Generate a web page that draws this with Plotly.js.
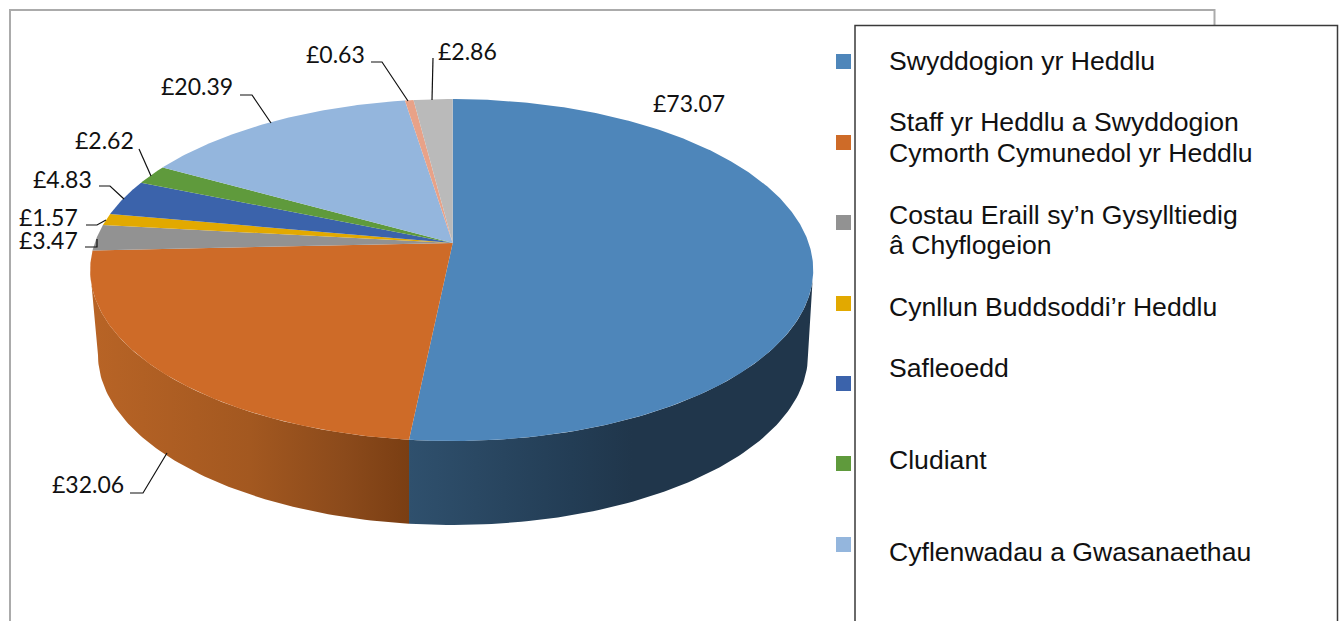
<!DOCTYPE html>
<html>
<head>
<meta charset="utf-8">
<script src="https://cdn.plot.ly/plotly-3.0.1.min.js"></script>
<style>html,body{margin:0;padding:0;background:#fff;overflow:hidden}</style>
</head>
<body>
<div id="chart" style="width:1344px;height:621px"></div>
<script>
// ---- data ----
const values = [73.07, 32.06, 3.47, 1.57, 4.83, 2.62, 20.39, 0.63, 2.86];
const sliceColors = ['#4E86BA','#CE6B28','#929292','#E2A900','#3B63AB','#5F9A3C','#94B6DD','#E8A288','#BABABA'];
const legendNames = [
  ['Swyddogion yr Heddlu'],
  ['Staff yr Heddlu a Swyddogion','Cymorth Cymunedol yr Heddlu'],
  ['Costau Eraill sy\u2019n Gysylltiedig','\u00e2 Chyflogeion'],
  ['Cynllun Buddsoddi\u2019r Heddlu'],
  ['Safleoedd'],
  ['Cludiant'],
  ['Cyflenwadau a Gwasanaethau']
];
// ---- layout positions (pixels on a 1:1 hidden axis) ----
const legendKeyY = [61.5, 142.5, 222.5, 303.5, 383.5, 463.5, 544.5];
const legendBaselines = [[70],[131,162],[224,254],[316],[377],[469],[561]];
const labelX = [653, 52, 19, 19, 33, 75, 161, 306, 438];
const labelY = [103, 484, 240, 217, 179, 140, 86, 54, 51];
const leaders = [
  null,
  [[130,493],[143,493],[167,453]],
  [[85,247],[97,247],[97,239]],
  [[86,225],[97,225],[106,220]],
  [[99,186],[110,186],[124,199]],
  [[139,149],[151,176]],
  [[240,95],[252,95],[271,123]],
  [[371,62],[382,62],[408,101]],
  [[433,58],[432,100]]
];

// ---- pie projection ----
const CX = 452.7, CY = 243, RL = 358, RR = 356, A = 166.7, B = 0.158;
const total = values.reduce((a, b) => a + b, 0);
function rim(deg) {            // clockwise degrees from 12 o'clock
  const t = deg * Math.PI / 180, u = Math.sin(t), v = Math.cos(t), d = 1 + B * v;
  return [CX + (u > 0 ? RR : RL) * u / d, CY - A * v / d];
}
const LOW = {cx: 453, cy: 355, rx: 355, ry: 170};
function lower(phiDeg) {       // bottom ellipse, phi measured from +x towards screen-down
  const p = phiDeg * Math.PI / 180;
  return [LOW.cx + LOW.rx * Math.cos(p), LOW.cy + LOW.ry * Math.sin(p)];
}
function range(a, b, n) {
  const out = [];
  for (let i = 0; i <= n; i++) out.push(a + (b - a) * i / n);
  return out;
}
const ends = [];
let acc = 0;
values.forEach(v => { const s = acc; acc += v / total * 360; ends.push([s, acc]); });

const traces = [];
// side walls
const split = ends[0][1];
const splitLow = Math.acos((rim(split)[0] - LOW.cx) / LOW.rx) * 180 / Math.PI;
function wall(rimA, rimB, lowA, lowB, scale, start, stop) {
  const pts = range(rimA, rimB, 80).map(rim).concat(range(lowA, lowB, 80).map(lower));
  traces.push({
    x: pts.map(p => p[0]), y: pts.map(p => p[1]),
    mode: 'lines', line: {width: 0}, fill: 'toself', hoverinfo: 'skip',
    fillgradient: {type: 'horizontal', colorscale: scale, start: start, stop: stop}
  });
}
wall(99, split, splitLow, 0, [[0,'#2F506D'],[0.4,'#233D55'],[0.55,'#20364B'],[1,'#20364B']], rim(split)[0], 815);
wall(261, split, splitLow, 180, [[0,'#B86426'],[0.5,'#A35820'],[0.8,'#8B4A1B'],[1,'#7A3E13']], 90, rim(split)[0]);
// top slices
ends.forEach((e, i) => {
  const pts = [[CX, CY]].concat(range(e[0], e[1], Math.max(4, Math.ceil(e[1] - e[0]) * 2)).map(rim));
  pts.push([CX, CY]);
  traces.push({
    x: pts.map(p => p[0]), y: pts.map(p => p[1]),
    mode: 'lines', line: {width: 0, color: sliceColors[i]}, fill: 'toself',
    fillcolor: sliceColors[i], hoverinfo: 'skip'
  });
});
// leader lines
leaders.forEach(l => {
  if (!l) return;
  traces.push({
    x: l.map(p => p[0]), y: l.map(p => p[1]), mode: 'lines',
    line: {width: 1.2, color: '#111'}, hoverinfo: 'skip'
  });
});
// legend keys
traces.push({
  x: legendKeyY.map(() => 843.5), y: legendKeyY, mode: 'markers', hoverinfo: 'skip',
  marker: {symbol: 'square', size: 15, color: sliceColors.slice(0, 7), line: {width: 0}}
});

const annotations = [];
values.forEach((v, i) => annotations.push({
  x: labelX[i], y: labelY[i], xref: 'x', yref: 'y', xanchor: 'left', yanchor: 'middle',
  text: '\u00a3' + v.toFixed(2), showarrow: false, borderpad: 0, borderwidth: 0,
  font: {family: 'Lato', size: 23, color: '#111'}
}));
legendNames.forEach((lines, i) => lines.forEach((t, j) => annotations.push({
  x: 889, y: legendBaselines[i][j] - 9, xref: 'x', yref: 'y', xanchor: 'left', yanchor: 'middle',
  text: t, showarrow: false, borderpad: 0, borderwidth: 0,
  font: {family: 'Liberation Sans', size: 26.6, color: '#111'}
})));

const layout = {
  width: 1344, height: 621, margin: {l: 0, r: 0, t: 0, b: 0, pad: 0},
  paper_bgcolor: '#fff', plot_bgcolor: '#fff', showlegend: false,
  xaxis: {range: [0, 1344], visible: false, fixedrange: true},
  yaxis: {range: [621, 0], visible: false, fixedrange: true},
  shapes: [
    {type: 'rect', layer: 'below', xref: 'x', yref: 'y', x0: 10, x1: 1214.5, y0: 10, y1: 700,
     line: {color: '#ABABAB', width: 2}, fillcolor: '#fff'},
    {type: 'rect', layer: 'below', xref: 'x', yref: 'y', x0: 855, x1: 1337.5, y0: 25.5, y1: 700,
     line: {color: '#3A3A3A', width: 1.5}, fillcolor: '#fff'}
  ],
  annotations: annotations
};
Plotly.newPlot('chart', traces, layout, {displayModeBar: false, staticPlot: true});
</script>
</body>
</html>
